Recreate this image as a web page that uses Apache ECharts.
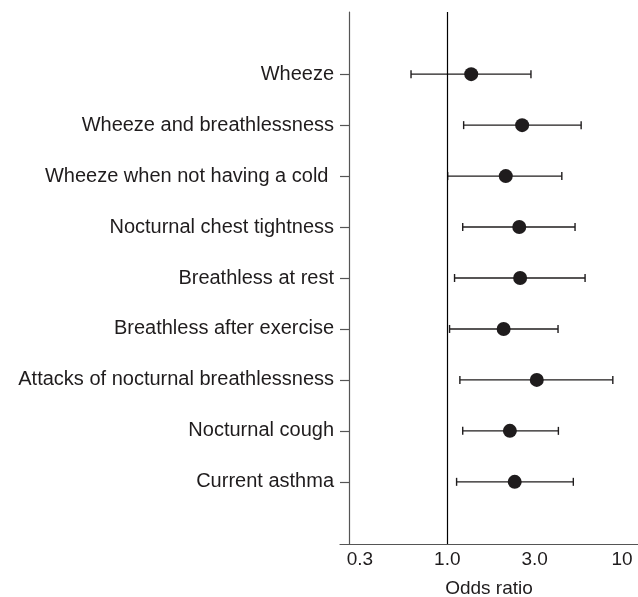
<!DOCTYPE html>
<html>
<head>
<meta charset="utf-8">
<script src="https://cdn.jsdelivr.net/npm/echarts@6/dist/echarts.min.js"></script>
<style>
  html, body { margin: 0; padding: 0; background: #fff; }
  #chart { width: 638px; height: 597px; }
</style>
</head>
<body>
<div id="chart"></div>
<script>
// outcomes, top to bottom
const outcomes = [
  "Wheeze",
  "Wheeze and breathlessness",
  "Wheeze when not having a cold ",
  "Nocturnal chest tightness",
  "Breathless at rest",
  "Breathless after exercise",
  "Attacks of nocturnal breathlessness",
  "Nocturnal cough",
  "Current asthma"
];
const oddsRatio = [1.37, 2.68, 2.16, 2.58, 2.61, 2.10, 3.25, 2.28, 2.43];
const lowerCI   = [0.62, 1.24, 1.005, 1.225, 1.10, 1.03, 1.18, 1.225, 1.13];
const upperCI   = [3.01, 5.83, 4.52, 5.38, 6.14, 4.30, 8.85, 4.32, 5.26];
// tick positions sit at half decades in the original figure
const tickValues = [0.316, 1, 3.16, 10];
const tickLabels = ["0.3", "1.0", "3.0", "10"];

const lg = v => Math.log10(v);
const font = "'Liberation Sans', Arial, sans-serif";
const ink = "#1f1c1d";

const pointData = oddsRatio.map((v, i) => [lg(v), i + 1]);
const ciData = lowerCI.map((lo, i) => [lg(lo), lg(upperCI[i]), i + 1]);

const chart = echarts.init(document.getElementById("chart"));
chart.setOption({
  animation: false,
  grid: { left: 340, right: 0, top: 12, bottom: 53, outerBoundsMode: "none" },
  xAxis: {
    type: "value",
    min: -0.614,
    max: 1.091,
    splitLine: { show: false },
    axisLine: { onZero: false, lineStyle: { color: "#555", width: 1.2 } },
    axisTick: { show: false },
    axisLabel: {
      customValues: tickValues.map(lg),
      formatter: v => tickLabels[tickValues.map(lg).findIndex(t => Math.abs(t - v) < 1e-6)],
      color: ink, fontFamily: font, fontSize: 19, margin: 6
    },
    name: "Odds ratio",
    nameLocation: "middle",
    nameGap: 35,
    nameTextStyle: { color: ink, fontFamily: font, fontSize: 19 }
  },
  yAxis: {
    type: "value",
    inverse: true,
    min: -0.22,
    max: 10.22,
    offset: -9,
    splitLine: { show: false },
    axisLine: { show: true, onZero: false, lineStyle: { color: "#555", width: 1.2 } },
    axisTick: {
      show: true, length: 9,
      customValues: outcomes.map((d, i) => i + 1),
      lineStyle: { color: "#555", width: 1.2 }
    },
    axisLabel: {
      customValues: outcomes.map((d, i) => i + 1),
      formatter: v => outcomes[v - 1],
      color: ink, fontFamily: font, fontSize: 20, margin: 15
    }
  },
  series: [
    {
      type: "custom",
      data: ciData,
      renderItem: (params, api) => {
        const p1 = api.coord([api.value(0), api.value(2)]);
        const p2 = api.coord([api.value(1), api.value(2)]);
        const h = 4;
        const style = { stroke: ink, lineWidth: 1.4 };
        return {
          type: "group",
          children: [
            { type: "line", shape: { x1: p1[0], y1: p1[1], x2: p2[0], y2: p2[1] }, style },
            { type: "line", shape: { x1: p1[0], y1: p1[1] - h, x2: p1[0], y2: p1[1] + h }, style },
            { type: "line", shape: { x1: p2[0], y1: p2[1] - h, x2: p2[0], y2: p2[1] + h }, style }
          ]
        };
      },
      z: 2
    },
    {
      type: "scatter",
      data: pointData,
      symbol: "circle",
      symbolSize: 14,
      itemStyle: { color: ink, opacity: 1 },
      z: 3,
      markLine: {
        silent: true,
        symbol: "none",
        label: { show: false },
        lineStyle: { color: "#000", width: 1.2, type: "solid" },
        data: [{ xAxis: lg(1) }]
      }
    }
  ]
});
</script>
</body>
</html>
